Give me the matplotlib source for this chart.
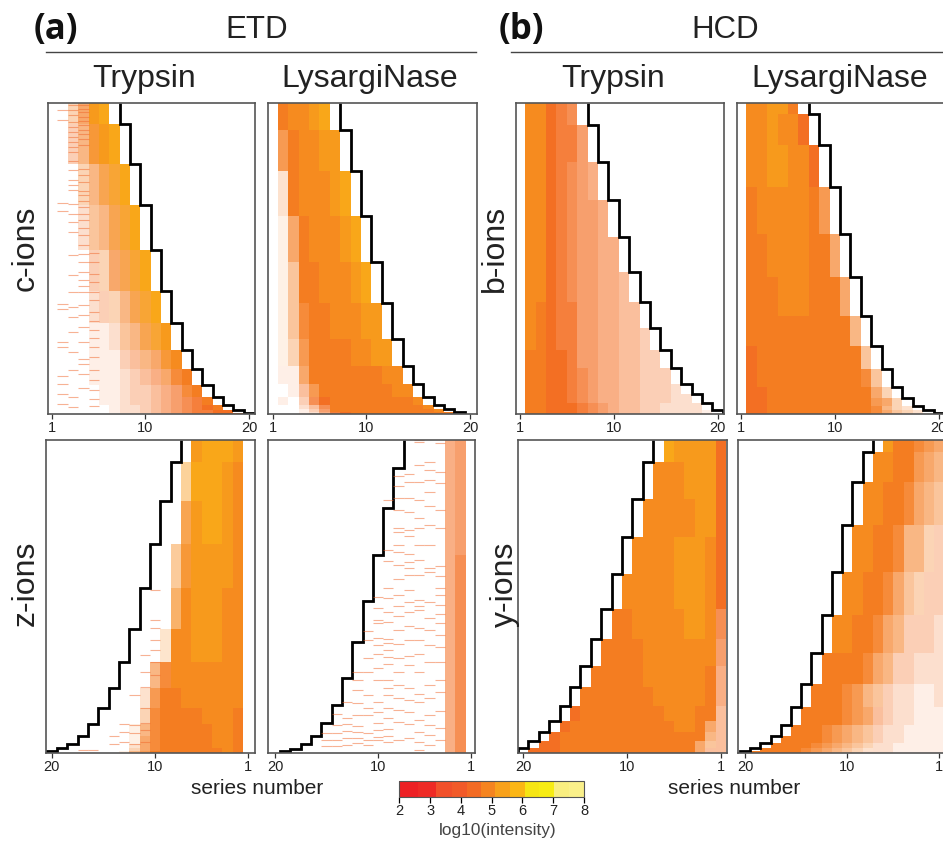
import matplotlib
matplotlib.use("Agg")
import matplotlib.pyplot as plt
import numpy as np
from matplotlib.colors import ListedColormap, BoundaryNorm, to_rgb
from matplotlib.cm import ScalarMappable
from matplotlib.ticker import FormatStrFormatter

plt.rcParams['font.family'] = ['Liberation Sans', 'DejaVu Sans']

W, H = 943, 842

# colour scale
cbar_edges = [2, 2.6, 3.2, 3.7, 4.2, 4.65, 5.12, 5.6, 6.08, 6.55, 7.02, 7.5, 8]
cbar_colors = ['#ED2024', '#EE2A25', '#F1502A', '#F15A29', '#F36B24', '#F58420',
               '#F8A11B', '#FBB615', '#F6E514', '#F7EC13', '#F9EE80', '#FAF08A']

# cumulative number of spectra at the end of each staircase step, first step is length 7
ct_steps = [21, 61, 103, 148, 189, 221, 248, 267, 283, 295, 303, 308, 311, 312]
cl_steps = [27, 68, 114, 160, 201, 237, 264, 282, 295, 303, 307, 310, 312]
zt_steps = [22, 61, 104, 148, 189, 222, 248, 268, 284, 296, 304, 308, 311, 313]
zl_steps = [28, 68, 115, 161, 202, 238, 265, 283, 296, 304, 309, 311, 313]
bt_steps = [22, 59, 97, 134, 169, 199, 225, 247, 265, 281, 291, 300, 307, 311]
bl_steps = [11, 42, 84, 131, 174, 213, 243, 266, 284, 295, 303, 307, 310, 311]
yt_steps = [22, 59, 97, 134, 169, 199, 226, 247, 266, 281, 292, 301, 308, 313]
yl_steps = [12, 42, 85, 132, 175, 213, 244, 267, 285, 296, 303, 308, 311, 313]

# per step, per series number: level digit (log10 = 3.5 + 0.25*d), cover digit (share of spectra with the ion, 9 = all)
ct_level = ["445578", "4445678", "44455678", "444455678", "4444455678", "44444455678",
            "444444455677", "4444444445566", "44444444444555", "444444444444455",
            "4444444444444445", "44444444444444445", "444444444444444444", "4444444444444444444"]
ct_cover = ["003699", "0035899", "00035789", "000245789", "0000336789", "00002335789",
            "000011245789", "0000111345689", "00001112345689", "000001123345689",
            "0000011233456789", "00000012234567899", "000000122345678899", "0000000122345678999"]

cl_level = ["556678", "5556677", "55566678", "555566678", "5555566678", "55555566677",
            "455555556677", "4445555555566", "44445555555566", "444444555555556",
            "4444445555555556", "44444455555555556", "444444445555555555"]
cl_cover = ["099999", "0799999", "02999999", "016999999", "0149999999", "01489999999",
            "013799999999", "0116999999999", "00147999999999", "010379999999999",
            "0002479999999999", "00013699999999999", "000125899999999999"]

zt_level = ["078887", "0678887", "06788766", "067777666", "0667776665", "06677766655",
            "066666665555", "0666666555555", "05666555555555", "056655555555555",
            "0566555555555555", "05665555555555555", "056555555555555555", "0565555555555555555"]
zt_cover = ["099999", "0999994", "09999970", "099999840", "0999999600", "09999999200",
            "099999998500", "0999999997200", "09999999983000", "099999999851000",
            "0999999998610000", "09999999986200000", "099999999863000000", "0999999999751000000"]

zl_level = ["044444", "0444444", "04444444", "044444444", "0444444444", "04444444444",
            "044444444444", "0444444444444", "04444444444444", "044444444444444",
            "0444444444444444", "04444444444444444", "044444444444444444"]
zl_cover = ["065000", "0650000", "06500000", "075000000", "0750000000", "07500000000",
            "075000000000", "0750000000000", "07500000000000", "075000000000000",
            "0750000000000000", "07500000000000000", "075000000000000000"]

bt_level = ["066444", "0664444", "06644444", "066444444", "0664444444", "06644444444",
            "065444444444", "0654444444444", "05544444444444", "055444444444444",
            "0554444444444444", "05544444444444444", "055444444444444444", "0554444444444444444"]
bt_cover = ["099987", "0999886", "09998765", "099987665", "0999876655", "09998766554",
            "099988665544", "0999886655443", "09999866554433", "099998765544333",
            "0999987655443332", "09999876554433322", "099999876544332222", "0999998765443322221"]

bl_level = ["066775", "0667664", "06677664", "056666655", "0556666555", "05556665555",
            "055555555555", "0455555555555", "04555555555555", "044555555555555",
            "0445555555555555", "04455555555555555", "044555555555555555", "0445555555555555555"]
bl_cover = ["099999", "0999999", "09999999", "099999997", "0999999996", "09999999996",
            "099999999995", "0999999999994", "09999999999984", "099999999999963",
            "0999999999999763", "09999999999998532", "099999999999986432", "0999999999999865321"]

yt_level = ["477778", "4777666", "47766666", "467776666", "4677766666", "46776666655",
            "466666665555", "4566666655555", "45666665555555", "455666555555554",
            "4556655555555554", "45555555555555554", "455555555555555544", "4455555555555555444"]
yt_cover = ["999999", "9999999", "99999999", "999999999", "9999999999", "79999999999",
            "699999999999", "5999999999999", "59999999999999", "499999999999999",
            "4699999999999999", "45999999999999999", "446999999999999999", "4469999999999999999"]

yl_level = ["555557", "5555566", "55555566", "455555566", "4455555566", "44445555566",
            "444445555555", "4444445555555", "44444445555555", "444444455555555",
            "4444444555555555", "44444445555555555", "444444455555555555", "4444444455555555555"]
yl_cover = ["678999", "5679999", "45689999", "335589999", "3334689999", "23335689999",
            "222335689999", "2112234578999", "11122346789999", "111122345678999",
            "1111223456789999", "11111223456789999", "111112223456789999", "1111122234567899999"]

# single sparse spectra, read per series number: row positions of the thin marks
ct_marks = {2: [7, 17, 101, 109, 202, 207, 240, 245, 274, 282, 292, 302],
            3: [2, 7, 12, 19, 24, 29, 34, 39, 44, 49, 58, 67, 77, 82, 87, 102, 112, 120, 130,
                153, 173, 190, 205, 215, 230, 250, 268, 295, 305],
            4: [2, 6, 9, 14, 18, 22, 27, 31, 36, 42, 66, 72, 79, 88, 93, 99, 105, 112, 118, 126,
                133, 143, 152, 160, 170, 178, 184, 190, 203, 213, 225, 240, 257, 262, 272, 286],
            5: [151, 160, 172, 180, 190, 198, 210, 219, 228, 236, 245, 255, 268, 278, 288, 297, 304]}
zl_marks = {4: [3, 32, 43, 70, 88, 126, 136, 148, 155, 165, 174, 183, 195, 207, 222, 240, 252, 271, 288, 300],
            5: [22, 30, 40, 52, 66, 85, 105, 128, 132, 162, 178, 190, 205, 222, 245, 258, 275, 285, 295, 305],
            6: [0, 2, 25, 42, 60, 78, 88, 105, 120, 135, 160, 166, 170, 188, 200, 214, 232, 254, 262, 280, 292, 302, 310],
            7: [34, 42, 58, 72, 90, 96, 114, 122, 128, 135, 150, 162, 172, 186, 200, 216, 225, 248, 260, 272, 284, 298],
            8: [36, 46, 58, 70, 88, 92, 105, 112, 125, 139, 155, 166, 176, 190, 204, 218, 232, 245, 258, 270, 282, 300],
            9: [60, 110, 121, 148, 158, 172, 182, 199, 203, 210, 217, 224, 240, 248, 255, 268, 278, 289, 296, 302],
            10: [157, 168, 180, 183, 198, 205, 214, 228, 240, 262, 272, 283, 290, 297, 300],
            11: [191, 200, 218, 232, 255, 268, 275, 293, 300, 305],
            12: [232, 240, 250, 263, 275, 286, 292, 298, 303],
            13: [262, 278, 284, 291, 298, 305],
            14: [274, 285, 293, 300, 306],
            15: [293, 300, 306]}
zt_marks = {10: [150, 180, 188, 200, 210, 222, 235],
            11: [215, 232, 247, 268, 283, 290, 302],
            12: [255, 285, 293, 304],
            13: [284, 292, 302],
            14: [296, 304],
            16: [310], 17: [310]}

tick_values = [1, 10, 20]

cmap = ListedColormap(cbar_colors)
norm = BoundaryNorm(cbar_edges, cmap.N)
bin_mid = [(cbar_edges[i] + cbar_edges[i + 1]) / 2 for i in range(len(cbar_colors))]
bin_rgb = np.array([to_rgb(c) for c in cbar_colors])


def level_rgb(v):
    return np.array([np.interp(v, bin_mid, bin_rgb[:, k]) for k in range(3)])


def px_axes(left, right, top, bottom):
    return fig.add_axes([left / W, 1 - bottom / H, (right - left) / W, (bottom - top) / H])


def draw_panel(box, tick1, tick20, steps, level, cover, marks=None):
    left, right, top, bottom = box
    ax = px_axes(left, right, top, bottom)
    scale = (tick20 - tick1) / 19
    ax.set_xlim(1 + (left - tick1) / scale, 1 + (right - tick1) / scale)
    ax.set_ylim(steps[-1], 0)

    # cells of the heatmap, one row per staircase step
    n_cols = 19
    rgb = np.ones((len(steps), n_cols, 3))
    for i in range(len(steps)):
        for j in range(len(level[i])):
            a = int(cover[i][j]) / 9.0
            rgb[i, j] = level_rgb(3.5 + 0.25 * int(level[i][j])) * a + (1 - a)
    x_edges = np.arange(n_cols + 1) + 0.5
    y_edges = np.array([0] + list(steps))
    ax.pcolormesh(x_edges, y_edges, rgb, linewidth=0, antialiased=False)

    if marks:
        for col, rows in marks.items():
            ax.hlines(rows, col - 0.5, col + 0.5, color='#F1672B', linewidth=0.8, alpha=0.5)

    # staircase of peptide length
    lengths = 7 + np.arange(len(steps))
    ax.stairs(lengths + 0.5, y_edges, orientation='horizontal', color='black', linewidth=2.0,
              baseline=None)

    ax.set_yticks([])
    ax.set_xticks(tick_values)
    ax.tick_params(axis='x', length=3.5, width=0.9, color='#333333', labelsize=10.5,
                   labelcolor='#222222', pad=1.5)
    for s in ax.spines.values():
        s.set_color('#555555')
        s.set_linewidth(1.2)
    return ax


def px_text(x, y, s, **kw):
    fig.text(x / W, 1 - y / H, s, ha='center', va='center', **kw)


fig = plt.figure(figsize=(W / 100, H / 100), dpi=100)

draw_panel((47.5, 255, 102.7, 414), 52.3, 249, ct_steps, ct_level, ct_cover, ct_marks)
draw_panel((268, 476.7, 102.7, 414), 272.7, 470, cl_steps, cl_level, cl_cover)
draw_panel((515.7, 724, 102.7, 414), 520, 717.7, bt_steps, bt_level, bt_cover)
draw_panel((737, 945, 102.7, 414), 741.3, 938.7, bl_steps, bl_level, bl_cover)
draw_panel((45.7, 255, 440, 752.7), 248.3, 51.7, zt_steps, zt_level, zt_cover, zt_marks)
draw_panel((267.7, 475.3, 440, 752.7), 470.7, 275, zl_steps, zl_level, zl_cover, zl_marks)
draw_panel((518.3, 726.7, 440, 752.7), 720.7, 523.3, yt_steps, yt_level, yt_cover)
draw_panel((737.7, 945, 440, 752.7), 939.3, 745, yl_steps, yl_level, yl_cover)

# headers
px_text(56, 30, "(a)", fontsize=25, fontweight='bold', family=['Open Sans', 'DejaVu Sans'], color='#111111')
px_text(521, 30, "(b)", fontsize=25, fontweight='bold', family=['Open Sans', 'DejaVu Sans'], color='#111111')
px_text(257, 30, "ETD", fontsize=22.5, color='#222222')
px_text(725, 30, "HCD", fontsize=22.5, color='#222222')
for x, s in [(144, "Trypsin"), (370, "LysargiNase"), (613, "Trypsin"), (840, "LysargiNase")]:
    px_text(x, 79, s, fontsize=23, color='#222222')
for x, y, s in [(26, 248, "c-ions"), (26, 583, "z-ions"), (495, 248, "b-ions"), (505, 584, "y-ions")]:
    px_text(x, y, s, fontsize=23, rotation=90, color='#222222')
px_text(257, 788, "series number", fontsize=15, color='#222222')
px_text(734, 788, "series number", fontsize=15, color='#222222')

fig.add_artist(plt.Line2D([46 / W, 476 / W], [1 - 52 / H, 1 - 52 / H], color='#444444', linewidth=1))
fig.add_artist(plt.Line2D([511 / W, 943 / W], [1 - 52 / H, 1 - 52 / H], color='#444444', linewidth=1))

# colour bar
cax = px_axes(399.3, 584, 781, 796.7)
cb = fig.colorbar(ScalarMappable(norm=norm, cmap=cmap), cax=cax, orientation='horizontal',
                  spacing='proportional', ticks=[2, 3, 4, 5, 6, 7, 8])
cb.ax.tick_params(length=4, width=0.9, labelsize=10.5, pad=1.5, labelcolor='#222222')
cb.ax.xaxis.set_major_formatter(FormatStrFormatter('%d'))
cb.ax.minorticks_off()
cb.outline.set_edgecolor('#555555')
px_text(498, 830, "log10(intensity)", fontsize=12.4, color='#444444')

fig.savefig("out.png", dpi=100)
